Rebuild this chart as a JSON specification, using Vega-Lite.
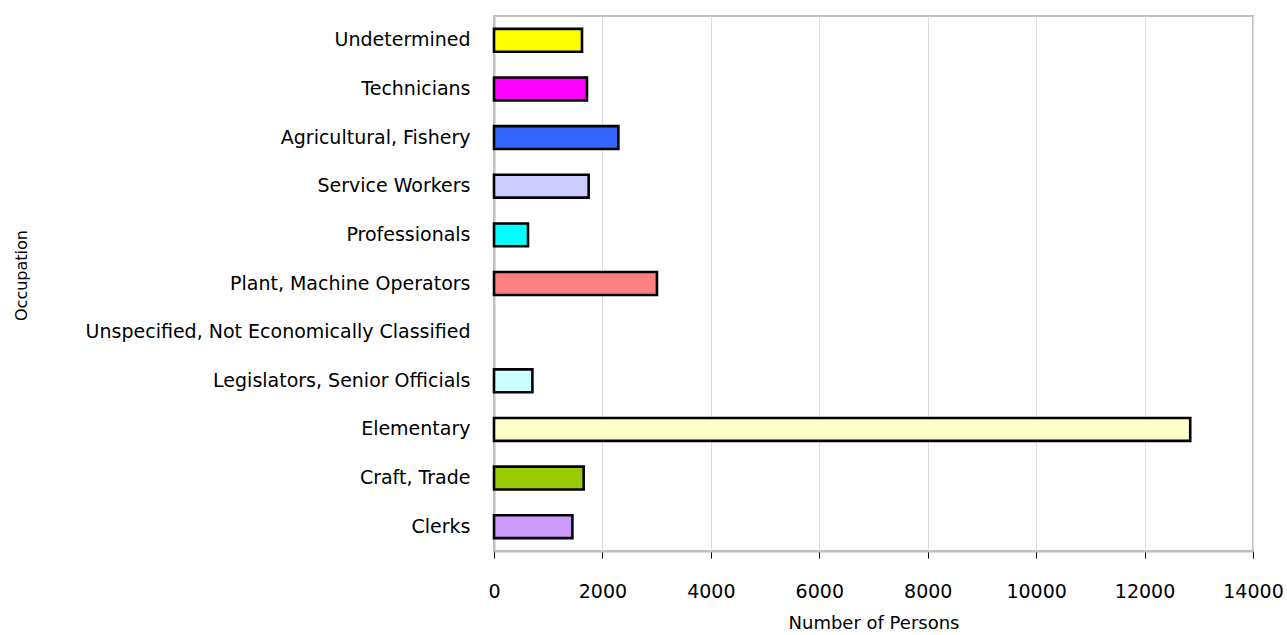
{
  "$schema": "https://vega.github.io/schema/vega-lite/v6.json",
  "autosize": {"type": "none"},
  "padding": {"left": 494, "top": 16, "right": 34, "bottom": 84},
  "width": 759,
  "height": 535,
  "background": "white",
  "config": {
    "font": "DejaVu Sans",
    "view": {"stroke": "#c0c0c0", "strokeWidth": 2}
  },
  "data": {
    "values": [
      {"occupation": "Undetermined", "persons": 1623},
      {"occupation": "Technicians", "persons": 1715},
      {"occupation": "Agricultural, Fishery", "persons": 2294},
      {"occupation": "Service Workers", "persons": 1746},
      {"occupation": "Professionals", "persons": 627},
      {"occupation": "Plant, Machine Operators", "persons": 3006},
      {"occupation": "Unspecified, Not Economically Classified", "persons": null},
      {"occupation": "Legislators, Senior Officials", "persons": 708},
      {"occupation": "Elementary", "persons": 12842},
      {"occupation": "Craft, Trade", "persons": 1654},
      {"occupation": "Clerks", "persons": 1446}
    ]
  },
  "mark": {"type": "bar", "stroke": "black", "strokeWidth": 2.6},
  "encoding": {
    "y": {
      "field": "occupation",
      "type": "nominal",
      "sort": null,
      "scale": {
        "domain": ["Undetermined", "Technicians", "Agricultural, Fishery", "Service Workers", "Professionals", "Plant, Machine Operators", "Unspecified, Not Economically Classified", "Legislators, Senior Officials", "Elementary", "Craft, Trade", "Clerks"],
        "paddingInner": 0.53, "paddingOuter": 0.265
      },
      "axis": {
        "title": "Occupation",
        "titleFontSize": 16,
        "titleFontWeight": "normal",
        "titleColor": "black",
        "titleAngle": 270,
        "titleAlign": "center",
        "titleBaseline": "middle",
        "titleX": -473,
        "titleY": 259,
        "labelFontSize": 19,
        "labelColor": "black",
        "labelPadding": 24,
        "labelLimit": 500,
        "ticks": false,
        "domainColor": "#c0c0c0",
        "domainWidth": 2
      }
    },
    "x": {
      "field": "persons",
      "type": "quantitative",
      "scale": {"domain": [0, 14000], "nice": false},
      "axis": {
        "title": "Number of Persons",
        "values": [0, 2000, 4000, 6000, 8000, 10000, 12000, 14000],
        "format": "d",
        "titleFontSize": 18,
        "titleFontWeight": "normal",
        "titleColor": "black",
        "titleBaseline": "middle",
        "titleY": 72,
        "labelFontSize": 19,
        "labelColor": "black",
        "labelPadding": 24,
        "labelFlush": false,
        "tickSize": 7,
        "tickColor": "black",
        "domainColor": "#c0c0c0",
        "domainWidth": 2,
        "grid": true,
        "gridColor": "#dddddd",
        "gridWidth": 1
      }
    },
    "color": {
      "field": "occupation",
      "type": "nominal",
      "legend": null,
      "scale": {
        "domain": ["Undetermined", "Technicians", "Agricultural, Fishery", "Service Workers", "Professionals", "Plant, Machine Operators", "Unspecified, Not Economically Classified", "Legislators, Senior Officials", "Elementary", "Craft, Trade", "Clerks"],
        "range": ["#FFFF00", "#FF00FF", "#3366FF", "#CCCCFF", "#00FFFF", "#FF8080", "#FFFFFF", "#CCFFFF", "#FFFFCC", "#99CC00", "#CC99FF"]
      }
    }
  }
}
